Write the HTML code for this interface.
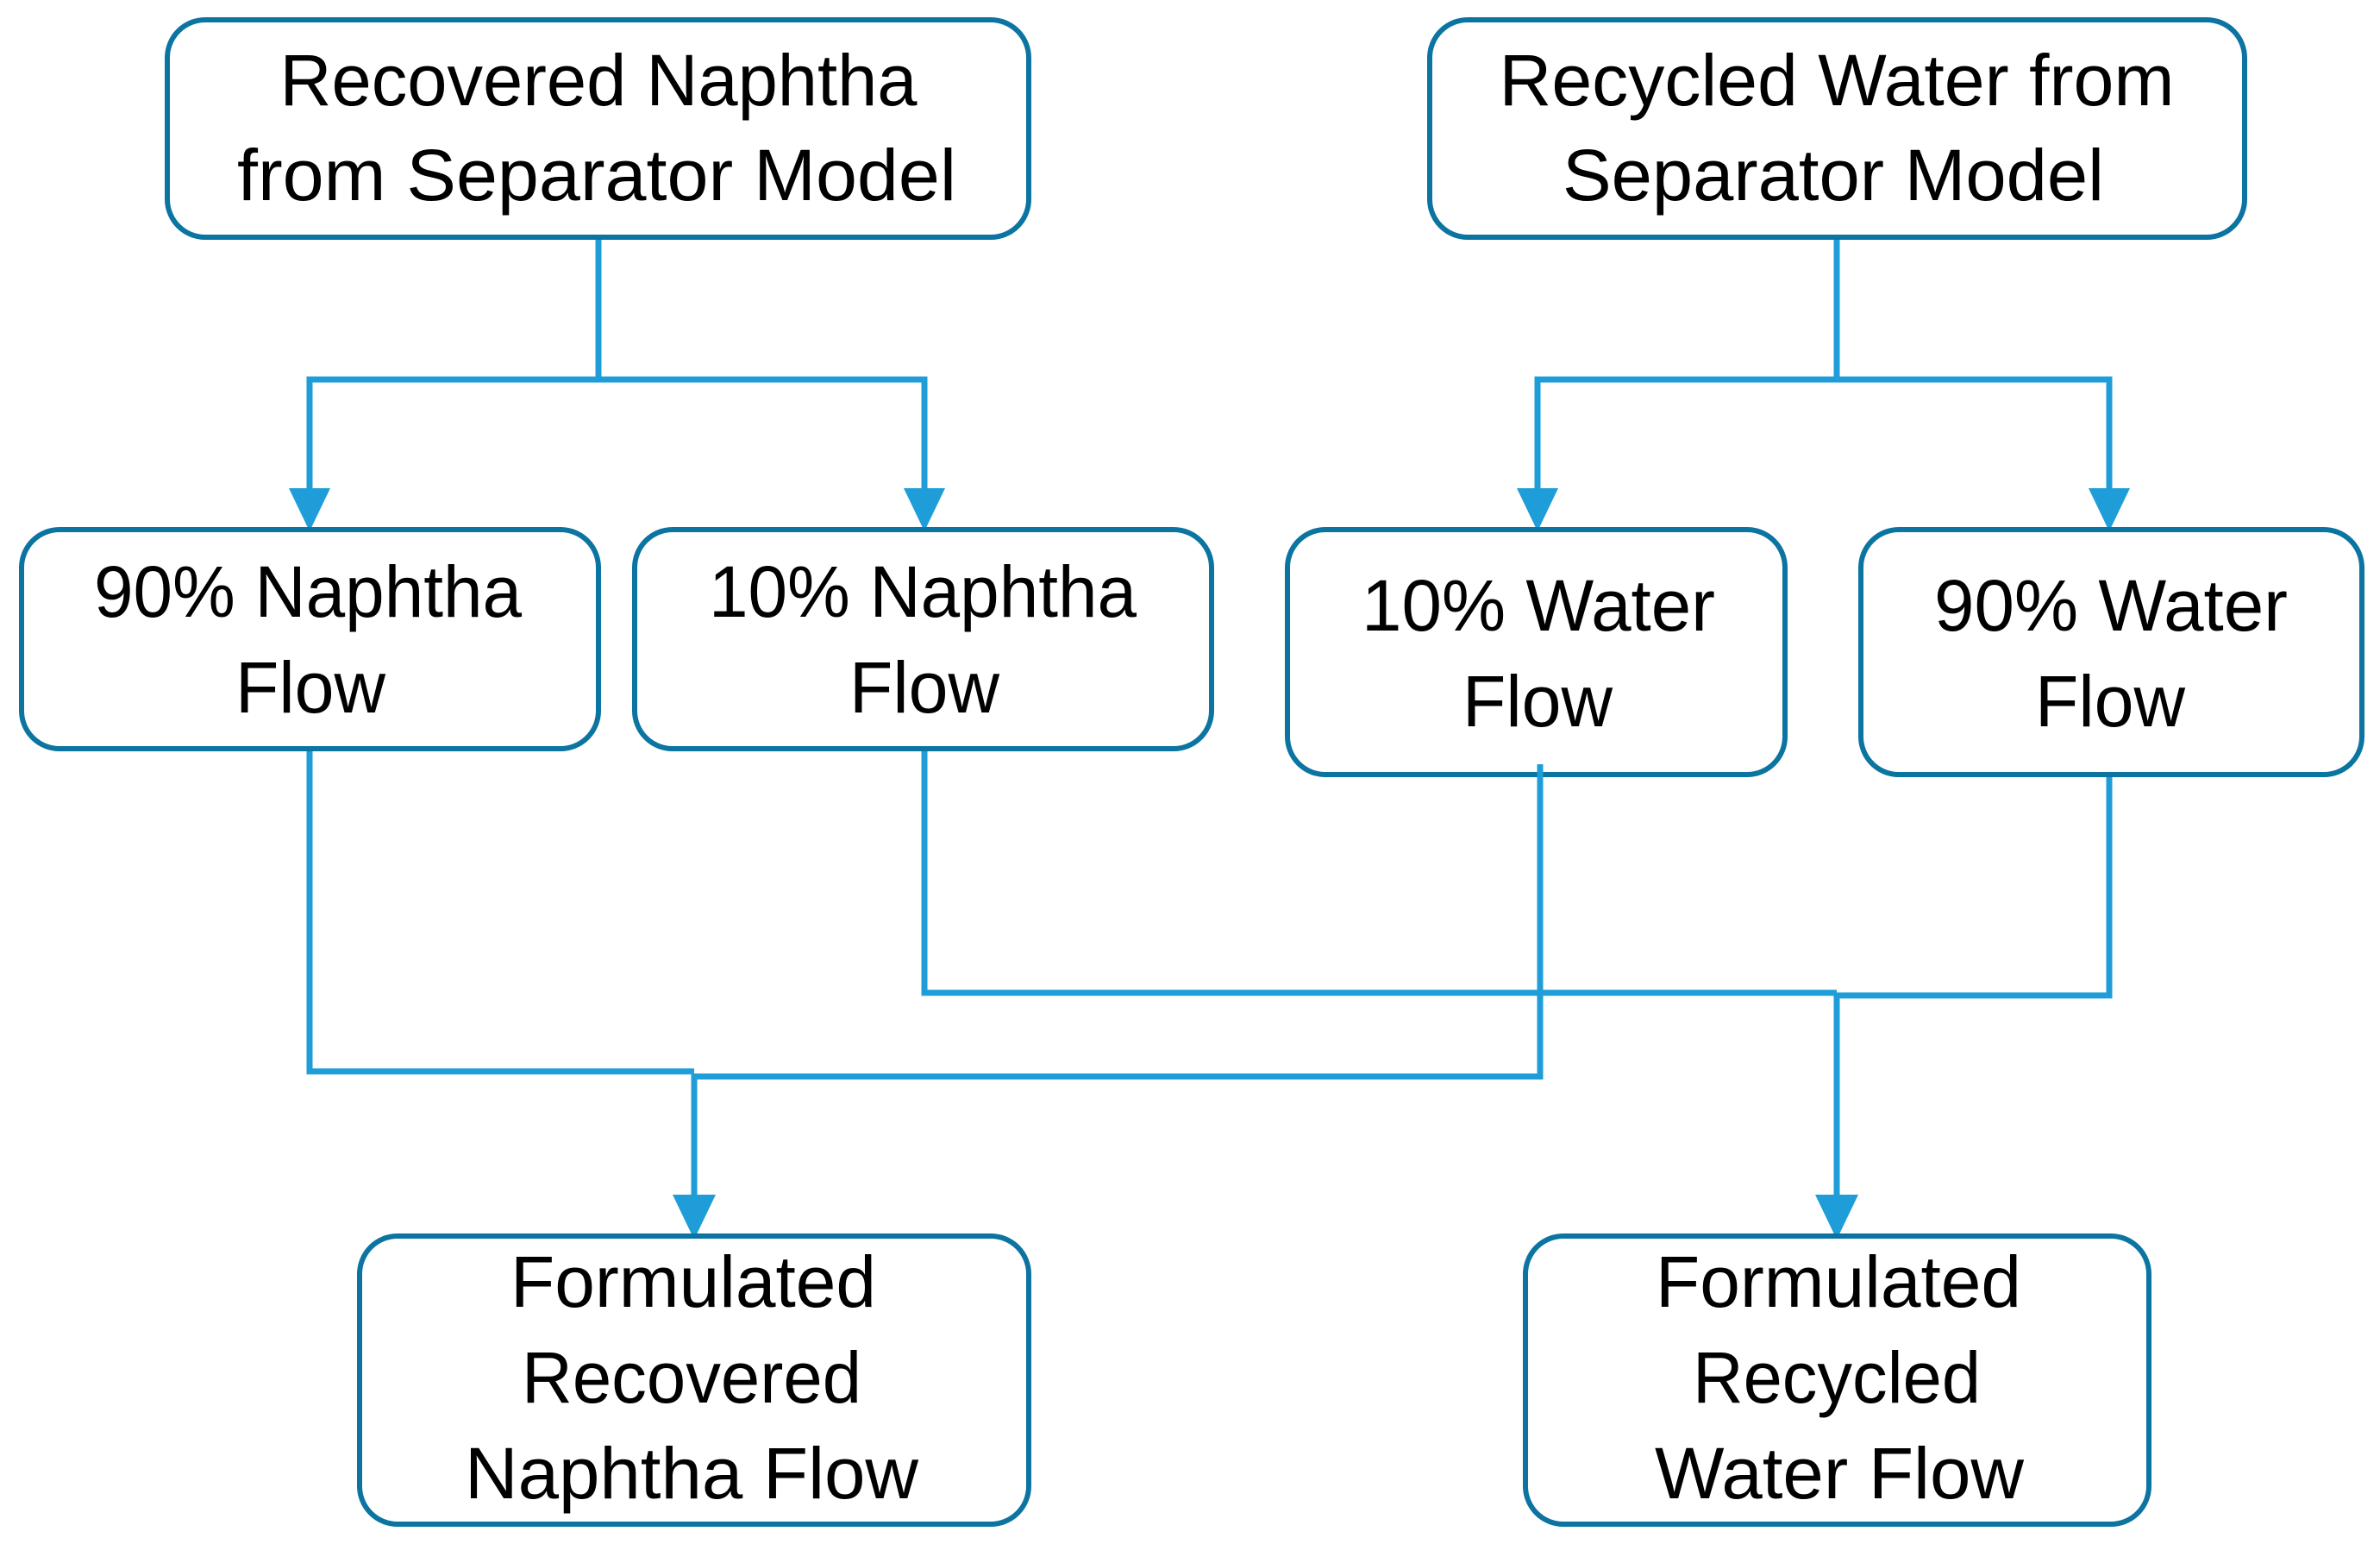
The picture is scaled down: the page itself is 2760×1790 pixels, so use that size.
<!DOCTYPE html>
<html><head><meta charset="utf-8"><style>
html,body{margin:0;padding:0;background:#fff;}
svg{display:block;}
text{font-family:"Liberation Sans",sans-serif;font-size:84px;fill:#000;}
</style></head><body>
<svg width="2760" height="1790" viewBox="0 0 2760 1790" xmlns="http://www.w3.org/2000/svg">
<g fill="none" stroke="#1e9dd8" stroke-width="7">
<polyline points="694,275 694,440 359,440 359,570"/>
<polyline points="694,440 1072,440 1072,570"/>
<polyline points="2130,275 2130,440 1783,440 1783,570"/>
<polyline points="2130,440 2446,440 2446,570"/>
<polyline points="359,868 359,1242 805,1242"/>
<polyline points="1786,886 1786,1248 805,1248 805,1390"/>
<polyline points="1072,868 1072,1151 2130,1151"/>
<polyline points="2446,898 2446,1154 2130,1154 2130,1390"/>
</g>
<g fill="#1e9dd8">
<polygon points="335,566 383,566 359,616"/>
<polygon points="1048,566 1096,566 1072,616"/>
<polygon points="1759,566 1807,566 1783,616"/>
<polygon points="2422,566 2470,566 2446,616"/>
<polygon points="780,1385 830,1385 805,1437"/>
<polygon points="2105,1385 2155,1385 2130,1437"/>
</g>
<g fill="#fff" stroke="#0b74a0" stroke-width="6">
<rect x="194" y="23" width="999" height="252" rx="44"/>
<rect x="1658" y="23" width="945" height="252" rx="44"/>
<rect x="25" y="614" width="669" height="254" rx="44"/>
<rect x="736" y="614" width="669" height="254" rx="44"/>
<rect x="1493" y="614" width="577" height="284" rx="44"/>
<rect x="2158" y="614" width="581" height="284" rx="44"/>
<rect x="417" y="1433" width="776" height="334" rx="44"/>
<rect x="1769" y="1433" width="723" height="334" rx="44"/>
</g>
<line x1="1786" y1="886" x2="1786" y2="902" stroke="#1e9dd8" stroke-width="7"/>
<g text-anchor="middle">
<text x="694" y="122" textLength="739" lengthAdjust="spacingAndGlyphs">Recovered Naphtha</text>
<text x="692" y="232" textLength="834" lengthAdjust="spacingAndGlyphs">from Separator Model</text>
<text x="2130" y="122" textLength="783" lengthAdjust="spacingAndGlyphs">Recycled Water from</text>
<text x="2126" y="232" textLength="628" lengthAdjust="spacingAndGlyphs">Separator Model</text>
<text x="357" y="715" textLength="496" lengthAdjust="spacingAndGlyphs">90% Naphtha</text>
<text x="360" y="826" textLength="174" lengthAdjust="spacingAndGlyphs">Flow</text>
<text x="1070" y="715" textLength="496" lengthAdjust="spacingAndGlyphs">10% Naphtha</text>
<text x="1072" y="826" textLength="174" lengthAdjust="spacingAndGlyphs">Flow</text>
<text x="1784" y="731" textLength="410" lengthAdjust="spacingAndGlyphs">10% Water</text>
<text x="1783" y="842" textLength="174" lengthAdjust="spacingAndGlyphs">Flow</text>
<text x="2448" y="731" textLength="410" lengthAdjust="spacingAndGlyphs">90% Water</text>
<text x="2447" y="842" textLength="174" lengthAdjust="spacingAndGlyphs">Flow</text>
<text x="804" y="1515" textLength="424" lengthAdjust="spacingAndGlyphs">Formulated</text>
<text x="802" y="1626" textLength="394" lengthAdjust="spacingAndGlyphs">Recovered</text>
<text x="802" y="1737" textLength="526" lengthAdjust="spacingAndGlyphs">Naphtha Flow</text>
<text x="2132" y="1515" textLength="424" lengthAdjust="spacingAndGlyphs">Formulated</text>
<text x="2130" y="1626" textLength="334" lengthAdjust="spacingAndGlyphs">Recycled</text>
<text x="2133" y="1737" textLength="428" lengthAdjust="spacingAndGlyphs">Water Flow</text>
</g>
</svg>
</body></html>
